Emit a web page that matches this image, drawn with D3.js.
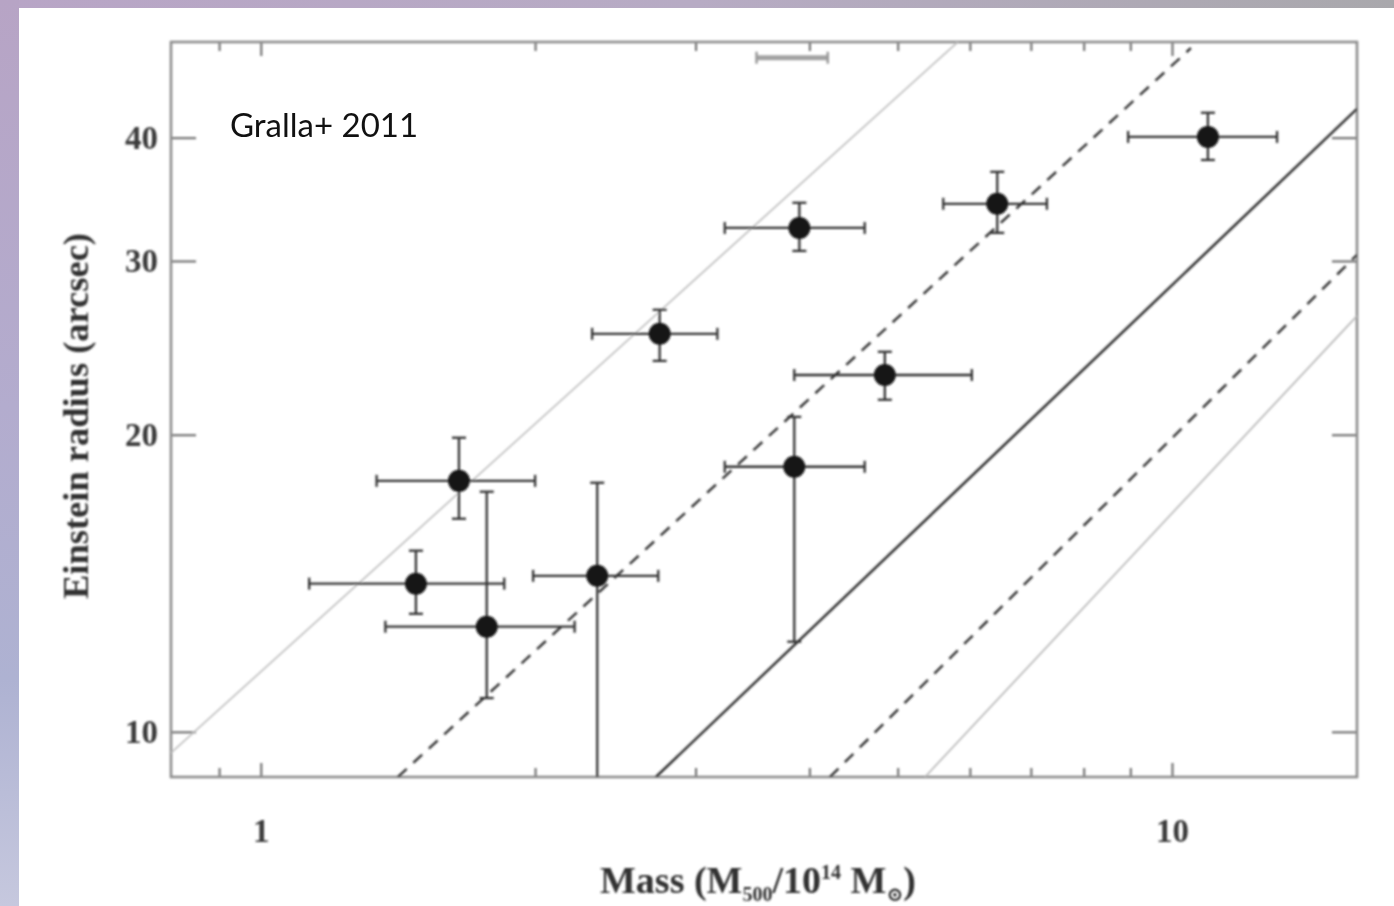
<!DOCTYPE html>
<html>
<head>
<meta charset="utf-8">
<script src="https://cdn.jsdelivr.net/npm/d3@7"></script>
<style>
  html, body { margin: 0; padding: 0; background: #fff; }
  svg { display: block; }
</style>
</head>
<body>
<script>
// Cluster masses (M500 / 10^14 Msun) with lower / upper bounds
const mass   = [1.48, 1.65, 1.77, 2.34, 2.74, 3.90, 4.84, 3.85, 6.43, 10.95];
const massLo = [1.13, 1.34, 1.37, 1.99, 2.31, 3.23, 3.85, 3.23, 5.61, 8.95];
const massHi = [1.85, 2.00, 2.21, 2.73, 3.17, 4.60, 6.03, 4.60, 7.29, 13.04];

// Einstein radii (arcsec) with lower / upper bounds
const radius   = [14.13, 17.96, 12.78, 14.39, 25.31, 32.40, 22.99, 18.56, 34.28, 40.07];
const radiusLo = [13.17, 16.44, 10.82,  5.00, 23.76, 30.71, 21.70, 12.34, 32.03, 37.97];
const radiusHi = [15.26, 19.86, 17.51, 17.88, 26.77, 34.36, 24.27, 20.85, 36.93, 42.39];

// Model relations: straight in log-log, given by two (mass, radius) end points
const modelNames  = ["outerLight", "outerDashed", "central", "innerDashed", "innerLight"];
const modelStart  = [[0.797, 9.52], [1.414, 9.0], [2.714, 9.0], [4.213, 9.0], [5.357, 9.0]];
const modelEnd    = [[5.82, 50.0], [10.49, 49.3], [15.96, 42.78], [15.96, 30.43], [15.96, 26.39]];

// Lone horizontal bar near the top of the panel
const barMass = [3.50, 4.19];
const barRadius = 48.2;

// Axis ticks
const massMajorTicks = [1, 10];
const massMinorTicks = [0.9, 2, 3, 4, 5, 6, 7, 8, 9];
const radiusTicks = [10, 20, 30, 40];

const W = 1394, H = 906;
const frame = { left: 171, right: 1357, top: 42, bottom: 777 };

const svg = d3.select("body").append("svg").attr("width", W).attr("height", H);
const defs = svg.append("defs");

// Page backdrop
const gTop = defs.append("linearGradient").attr("id", "topStrip").attr("x1", 0).attr("x2", 1).attr("y1", 0).attr("y2", 0);
gTop.append("stop").attr("offset", 0).attr("stop-color", "#b8a5c6");
gTop.append("stop").attr("offset", 0.5).attr("stop-color", "#b7abc4");
gTop.append("stop").attr("offset", 1).attr("stop-color", "#a9a8ac");
const gLeft = defs.append("linearGradient").attr("id", "leftStrip").attr("x1", 0).attr("x2", 0).attr("y1", 0).attr("y2", 1);
gLeft.append("stop").attr("offset", 0).attr("stop-color", "#b7a4c5");
gLeft.append("stop").attr("offset", 0.45).attr("stop-color", "#b3acce");
gLeft.append("stop").attr("offset", 0.75).attr("stop-color", "#aeb2d2");
gLeft.append("stop").attr("offset", 1).attr("stop-color", "#c6c8de");
defs.append("filter").attr("id", "soft")
  .attr("x", "-5%").attr("y", "-5%").attr("width", "110%").attr("height", "110%")
  .append("feGaussianBlur").attr("stdDeviation", 1.0);
defs.append("clipPath").attr("id", "plotClip").append("rect")
  .attr("x", frame.left).attr("y", frame.top)
  .attr("width", frame.right - frame.left).attr("height", frame.bottom - frame.top);

svg.append("rect").attr("width", W).attr("height", H).attr("fill", "#fff");
svg.append("rect").attr("x", 0).attr("y", 0).attr("width", W).attr("height", 8).attr("fill", "url(#topStrip)");
svg.append("rect").attr("x", 0).attr("y", 0).attr("width", 19).attr("height", H).attr("fill", "url(#leftStrip)");

// Scales
const x = d3.scaleLog().domain([0.797, 15.96]).range([frame.left, frame.right]);
const y = d3.scaleLog().domain([9.0, 50.0]).range([frame.bottom, frame.top]);

const chart = svg.append("g").attr("filter", "url(#soft)");
const serif = "'Liberation Serif', 'DejaVu Serif', serif";

// Axes with inward ticks on all four sides
function styleAxis(g) {
  g.select(".domain").remove();
  g.selectAll(".tick line").attr("stroke", "#666").attr("stroke-width", 2);
  g.selectAll(".tick text").attr("font-family", serif).attr("font-weight", "bold").attr("fill", "#3a3a3a");
}
chart.append("g").attr("transform", `translate(0,${frame.bottom})`)
  .call(d3.axisBottom(x).tickValues(massMinorTicks).tickFormat("").tickSizeInner(-9).tickSizeOuter(0))
  .call(styleAxis);
chart.append("g").attr("transform", `translate(0,${frame.bottom})`)
  .call(d3.axisBottom(x).tickValues(massMajorTicks).tickFormat(d3.format("d")).tickSizeInner(-14).tickSizeOuter(0).tickPadding(42))
  .call(styleAxis)
  .selectAll(".tick text").attr("font-size", 33);
chart.append("g").attr("transform", `translate(0,${frame.top})`)
  .call(d3.axisTop(x).tickValues(massMinorTicks).tickFormat("").tickSizeInner(-9).tickSizeOuter(0))
  .call(styleAxis);
chart.append("g").attr("transform", `translate(0,${frame.top})`)
  .call(d3.axisTop(x).tickValues(massMajorTicks).tickFormat("").tickSizeInner(-14).tickSizeOuter(0))
  .call(styleAxis);
chart.append("g").attr("transform", `translate(${frame.left},0)`)
  .call(d3.axisLeft(y).tickValues(radiusTicks).tickFormat(d3.format("d")).tickSizeInner(-25).tickSizeOuter(0).tickPadding(13))
  .call(styleAxis)
  .selectAll(".tick text").attr("font-size", 33);
chart.append("g").attr("transform", `translate(${frame.right},0)`)
  .call(d3.axisRight(y).tickValues(radiusTicks).tickFormat("").tickSizeInner(-25).tickSizeOuter(0))
  .call(styleAxis);

// Frame
chart.append("rect")
  .attr("x", frame.left).attr("y", frame.top)
  .attr("width", frame.right - frame.left).attr("height", frame.bottom - frame.top)
  .attr("fill", "none").attr("stroke", "#8c8c8c").attr("stroke-width", 2.6);

// Model relations
const plot = chart.append("g").attr("clip-path", "url(#plotClip)");
const modelStyle = {
  outerLight:  { stroke: "#c0c0c0", width: 1.7, dash: null },
  outerDashed: { stroke: "#383838", width: 2.5, dash: "12,9" },
  central:     { stroke: "#2e2e2e", width: 2.5, dash: null },
  innerDashed: { stroke: "#383838", width: 2.5, dash: "12,9" },
  innerLight:  { stroke: "#bababa", width: 1.7, dash: null }
};
const lineGen = d3.line().x(d => x(d[0])).y(d => y(d[1]));
modelNames.forEach((name, i) => {
  const s = modelStyle[name];
  plot.append("path")
    .attr("d", lineGen([modelStart[i], modelEnd[i]]))
    .attr("fill", "none")
    .attr("stroke", s.stroke)
    .attr("stroke-width", s.width)
    .attr("stroke-dasharray", s.dash);
});

// Lone bar at the top
plot.append("line")
  .attr("x1", x(barMass[0])).attr("x2", x(barMass[1]))
  .attr("y1", y(barRadius)).attr("y2", y(barRadius))
  .attr("stroke", "#a2a2a2").attr("stroke-width", 5);
barMass.forEach(m => plot.append("line")
  .attr("x1", x(m)).attr("x2", x(m))
  .attr("y1", y(barRadius) - 6).attr("y2", y(barRadius) + 6)
  .attr("stroke", "#9a9a9a").attr("stroke-width", 2.5));

// Error bars and cluster points
const errColor = "#333", errWidth = 2.3, capX = 6, capY = 7;
const idx = d3.range(mass.length);
const eb = plot.append("g").attr("stroke", errColor).attr("stroke-width", errWidth);
idx.forEach(i => {
  const cx = x(mass[i]), cy = y(radius[i]);
  eb.append("line").attr("x1", x(massLo[i])).attr("x2", x(massHi[i])).attr("y1", cy).attr("y2", cy);
  [massLo[i], massHi[i]].forEach(m => eb.append("line")
    .attr("x1", x(m)).attr("x2", x(m)).attr("y1", cy - capX).attr("y2", cy + capX));
  eb.append("line").attr("x1", cx).attr("x2", cx).attr("y1", y(radiusLo[i])).attr("y2", y(radiusHi[i]));
  [radiusLo[i], radiusHi[i]].forEach(r => eb.append("line")
    .attr("x1", cx - capY).attr("x2", cx + capY).attr("y1", y(r)).attr("y2", y(r)));
});
plot.append("g").selectAll("circle").data(idx).join("circle")
  .attr("cx", i => x(mass[i]))
  .attr("cy", i => y(radius[i]))
  .attr("r", 11)
  .attr("fill", "#151515");

// Axis titles
const xTitle = chart.append("text")
  .attr("x", 600).attr("y", 893)
  .attr("font-family", serif).attr("font-weight", "bold").attr("font-size", 38).attr("fill", "#333");
xTitle.append("tspan").text("Mass (M");
xTitle.append("tspan").attr("font-size", 20).attr("dy", 8).text("500");
xTitle.append("tspan").attr("dy", -8).text("/10");
xTitle.append("tspan").attr("font-size", 20).attr("dy", -14).text("14");
xTitle.append("tspan").attr("dy", 14).text(" M");
xTitle.append("tspan").attr("font-size", 20).attr("dy", 8).text("⊙");
xTitle.append("tspan").attr("dy", -8).text(")");

chart.append("text")
  .attr("transform", "translate(88,416) rotate(-90)")
  .attr("text-anchor", "middle")
  .attr("font-family", serif).attr("font-weight", "bold").attr("font-size", 35).attr("fill", "#333")
  .attr("textLength", 366).attr("lengthAdjust", "spacingAndGlyphs")
  .text("Einstein radius (arcsec)");

// Source annotation
svg.append("text")
  .attr("x", 230).attr("y", 137)
  .attr("font-family", "Lato, 'Open Sans', sans-serif").attr("font-size", 33).attr("fill", "#111")
  .text("Gralla+ 2011");
</script>
</body>
</html>
